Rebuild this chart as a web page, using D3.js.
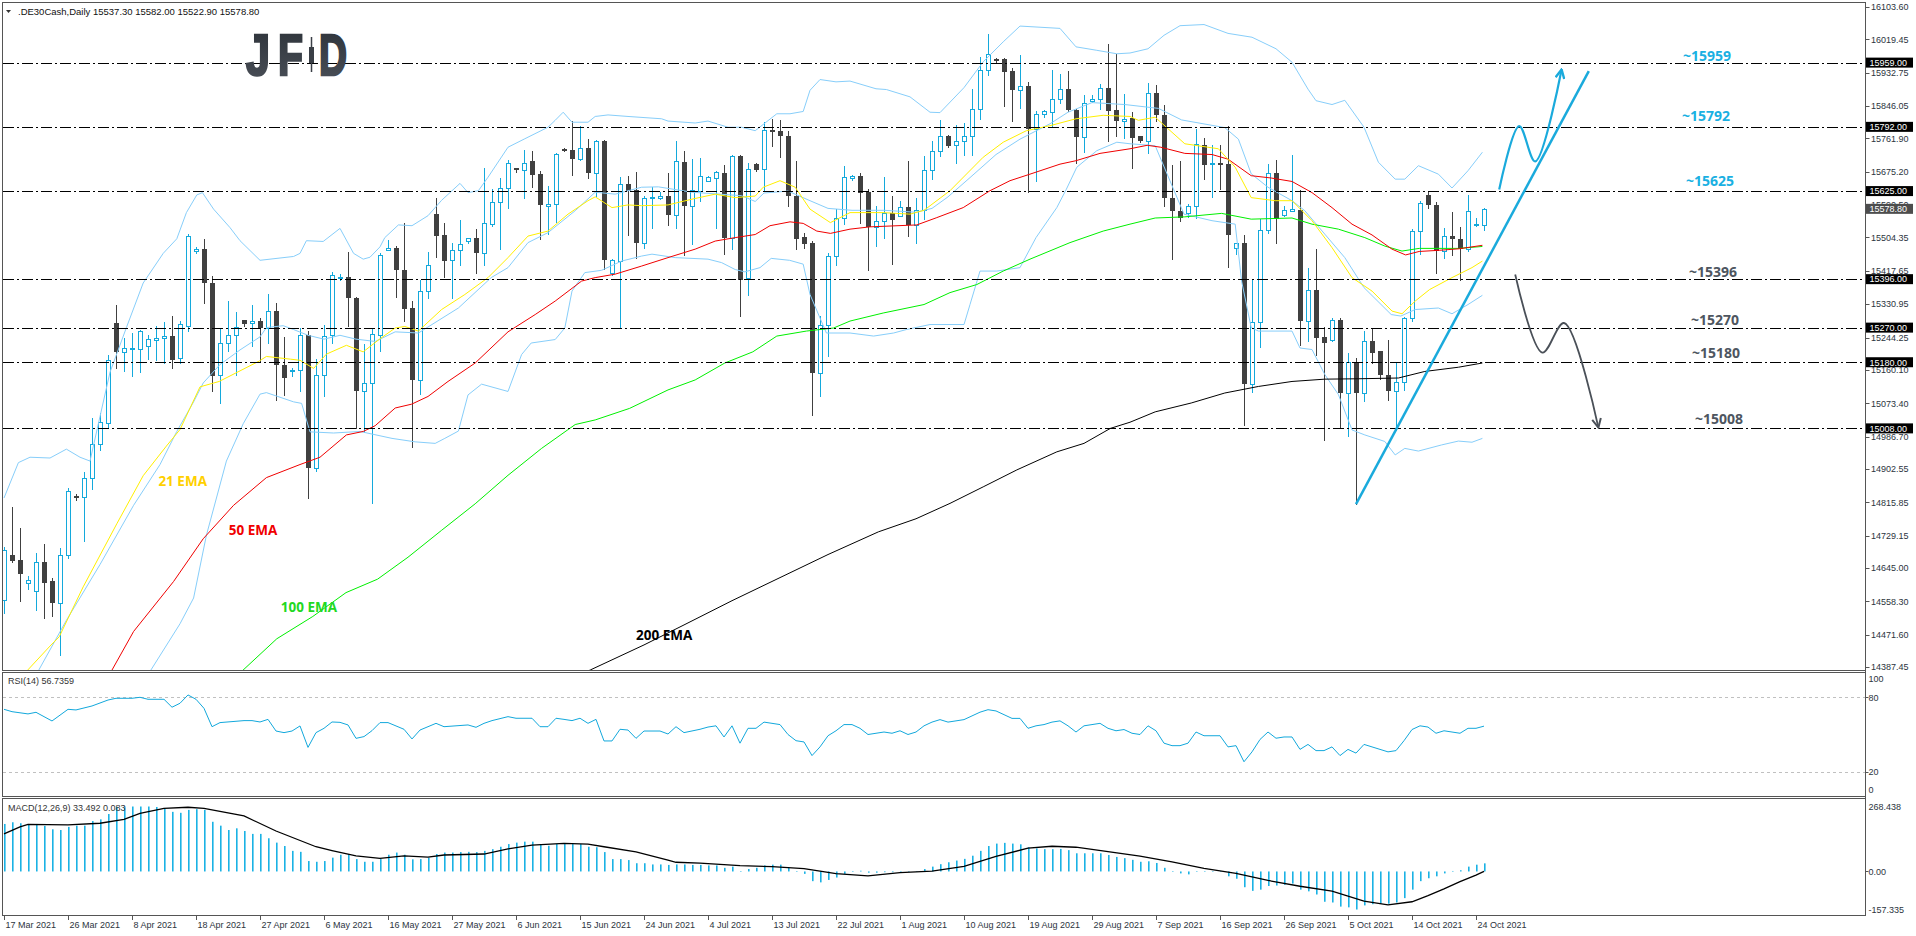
<!DOCTYPE html>
<html><head><meta charset="utf-8">
<script src="https://cdn.jsdelivr.net/npm/d3@7"></script>
<style>
html,body{margin:0;padding:0;background:#fff;}
svg{display:block;}
text{font-family:"Liberation Sans",Arial,sans-serif;}
</style></head><body>
<svg id="chart" width="1916" height="936"></svg>
<script>
// ---------------- DATA ----------------
const openP = [
14562,14678,14665,14607,14584,14661,14610,14554,14678,14832,
14829,14880,14967,15022,15283,15207,15215,15215,15222,15239,
15243,15249,15190,15275,15470,15475,15386,15147,15231,15251,
15289,15282,15287,15270,15313,15172,15157,15159,15251,14904,
15147,15251,15398,15402,15347,15104,15126,15252,15471,15476,
15421,15320,15134,15365,15565,15511,15445,15471,15494,15502,
15465,15539,15596,15633,15685,15680,15702,15669,15586,15591,
15735,15732,15708,15737,15672,15756,15413,15443,15643,15628,
15491,15606,15607,15613,15563,15700,15587,15626,15652,15659,
15673,15504,15717,15398,15695,15682,15785,15780,15769,15613,
15506,15491,15152,15276,15456,15555,15659,15665,15622,15532,
15546,15567,15561,15584,15537,15575,15680,15728,15769,15745,
15755,15768,15839,15939,15968,15968,15936,15887,15898,15787,
15826,15830,15865,15891,15837,15765,15858,15865,15894,15835,
15807,15815,15767,15755,15880,15822,15607,15574,15568,15587,
15746,15695,15699,15695,15478,15489,15123,15284,15523,15672,
15562,15574,15575,15288,15369,15245,15239,15291,15100,15178,
15100,15236,15208,15147,15106,15128,15294,15520,15614,15588,
15468,15507,15500,15474,15537,15537.3];
const highP = [
14700,14803,14750,14625,14683,14707,14620,14697,14854,14837,
14894,15034,15049,15198,15328,15243,15256,15265,15251,15275,
15284,15299,15287,15513,15479,15501,15405,15267,15339,15310,
15289,15328,15294,15357,15335,15246,15164,15270,15262,15188,
15277,15415,15410,15467,15350,15227,15270,15465,15497,15482,
15541,15339,15395,15467,15606,15541,15489,15549,15504,15527,
15685,15631,15659,15707,15686,15732,15730,15678,15639,15724,
15737,15806,15794,15761,15758,15758,15449,15661,15665,15675,
15613,15635,15622,15671,15754,15728,15708,15710,15665,15676,
15694,15720,15719,15698,15697,15804,15813,15809,15780,15702,
15515,15494,15300,15463,15578,15691,15667,15671,15630,15587,
15661,15613,15600,15704,15607,15715,15756,15809,15771,15798,
15802,15891,15974,16033,15970,15971,15946,15978,15909,15833,
15836,15939,15929,15936,15839,15876,15874,15904,16007,15981,
15878,15830,15767,15905,15900,15848,15694,15704,15591,15787,
15763,15746,15746,15793,15489,15511,15395,15552,15695,15706,
15587,15720,15628,15424,15474,15271,15294,15294,15204,15191,
15261,15267,15208,15239,15178,15297,15526,15600,15624,15597,
15528,15571,15532,15615,15555,15582];
const lowP = [
14528,14661,14559,14591,14536,14514,14519,14418,14671,14823,
14716,14851,14952,15010,15164,15157,15145,15154,15188,15185,
15179,15166,15179,15260,15465,15335,15104,15073,15209,15147,
15275,15222,15183,15231,15082,15095,15143,15106,14827,14896,
15092,15230,15394,15275,15008,14999,14813,15210,15471,15350,
15288,14959,15097,15347,15454,15401,15347,15432,15491,15413,
15433,15535,15474,15580,15674,15608,15635,15501,15513,15545,
15728,15668,15706,15659,15613,15423,15408,15271,15511,15452,
15478,15530,15604,15537,15530,15458,15487,15600,15650,15530,
15462,15475,15300,15356,15678,15628,15743,15713,15585,15474,
15476,15043,15091,15195,15434,15539,15654,15541,15419,15481,
15504,15436,15559,15508,15491,15552,15656,15717,15739,15697,
15720,15720,15813,15926,15959,15845,15806,15842,15622,15652,
15817,15795,15854,15833,15697,15726,15856,15839,15756,15767,
15762,15684,15752,15723,15807,15587,15449,15548,15558,15555,
15656,15610,15630,15428,15461,15017,15102,15219,15517,15491,
15560,15574,15224,15236,15198,14978,15236,15010,14989,14811,
15080,15178,15137,15082,15004,15108,15287,15462,15581,15413,
15452,15459,15395,15468,15535,15522.9];
const closeP = [
14692,14663,14630,14613,14661,14605,14554,14678,14846,14828,
14880,14967,15024,15185,15207,15217,15218,15260,15241,15244,
15249,15186,15280,15509,15474,15386,15143,15231,15251,15272,
15280,15287,15268,15313,15172,15140,15160,15251,14904,15147,
15249,15408,15402,15347,15104,15126,15253,15458,15476,15419,
15319,15134,15365,15434,15509,15443,15471,15487,15502,15465,
15541,15596,15633,15698,15680,15698,15668,15588,15591,15722,
15730,15708,15737,15672,15756,15446,15445,15643,15626,15491,
15607,15610,15612,15563,15702,15587,15628,15665,15661,15674,
15504,15717,15395,15682,15681,15785,15779,15768,15611,15501,
15488,15152,15276,15456,15555,15662,15665,15619,15532,15546,
15567,15550,15584,15537,15575,15680,15728,15769,15743,15756,
15769,15839,15939,15982,15965,15935,15887,15898,15787,15826,
15832,15865,15891,15835,15765,15854,15865,15894,15833,15807,
15813,15762,15755,15880,15822,15606,15572,15556,15587,15748,
15694,15699,15695,15511,15489,15123,15284,15523,15672,15552,
15575,15578,15288,15369,15243,15230,15291,15100,15180,15100,
15236,15204,15146,15106,15128,15294,15520,15594,15588,15468,
15507,15500,15474,15574,15539,15578.8];

const dateTickIdx = [0,8,16,24,32,40,48,56,64,72,80,88,96,104,112,120,128,136,144,152,160,168,176,184];
const dateTickLabels = ["17 Mar 2021","26 Mar 2021","8 Apr 2021","18 Apr 2021","27 Apr 2021","6 May 2021","16 May 2021","27 May 2021","6 Jun 2021","15 Jun 2021","24 Jun 2021","4 Jul 2021","13 Jul 2021","22 Jul 2021","1 Aug 2021","10 Aug 2021","19 Aug 2021","29 Aug 2021","7 Sep 2021","16 Sep 2021","26 Sep 2021","5 Oct 2021","14 Oct 2021","24 Oct 2021"];

const priceTicks = [16103.60,16019.45,15932.75,15846.05,15761.90,15675.20,15590.50,15504.35,15417.65,15330.95,15244.25,15160.10,15073.40,14986.70,14902.55,14815.85,14729.15,14645.00,14558.30,14471.60,14387.45];
const levels = [15959,15792,15625,15396,15270,15180,15008];
const levelIsBlue = [true,true,true,false,false,false,false];
const lastPrice = 15578.80;

const ema21 = [[0,14330],[2.8,14376],[5.75,14442],[6.9,14466],[9.9,14596],[14.1,14760],[17.4,14885],[20.3,14962],[22,15005],[24.5,15116],[26.9,15130],[31.9,15183],[32.8,15195],[35.8,15188],[37,15185],[38.7,15164],[40.3,15201],[42.8,15224],[44.9,15207],[47,15241],[48.9,15269],[50.1,15273],[51.8,15261],[54.7,15317],[57.6,15356],[60.5,15400],[63,15452],[65.5,15508],[68,15521],[70.5,15565],[73,15600],[73.9,15610],[76,15582],[78,15589],[79.7,15587],[83,15589],[86,15604],[88.9,15617],[91.4,15608],[93.9,15612],[94.9,15635],[97,15652],[98.9,15635],[100.75,15578],[103.3,15543],[105.75,15569],[109.9,15569],[113.25,15565],[115,15575],[118.25,15626],[122.4,15713],[124.9,15752],[127.8,15782],[130.75,15795],[134,15813],[137.4,15822],[140.75,15819],[141.8,15809],[143.9,15817],[147.6,15748],[151.8,15735],[153.9,15687],[155.9,15608],[158.9,15600],[161,15600],[163.5,15548],[166,15478],[168.5,15400],[171,15365],[173.5,15313],[174.75,15306],[176.4,15339],[178.2,15369],[181,15400],[183.5,15426],[184.8,15443]];
const ema50 = [[10,14280],[13.4,14376],[16.2,14480],[21.2,14610],[24.9,14721],[28.7,14808],[32.8,14880],[37,14914],[39.5,14933],[42.8,14991],[44.9,15000],[46.4,15015],[48.9,15061],[50.96,15071],[53,15091],[55.5,15130],[58.9,15178],[63,15259],[66.4,15304],[68.9,15339],[72.2,15391],[73.9,15400],[76.4,15409],[79.7,15430],[83,15452],[86.4,15474],[88.9,15495],[91.4,15504],[93.9,15512],[95.75,15535],[98.25,15545],[99.9,15541],[101.6,15521],[103.3,15515],[105.75,15526],[108.25,15532],[114.1,15537],[116.6,15556],[119.9,15582],[123.25,15626],[125.75,15652],[128.25,15669],[132,15695],[134,15704],[137,15723],[140.75,15735],[142.9,15744],[144.6,15739],[147.6,15723],[151,15720],[153,15708],[155.9,15665],[158.4,15659],[161,15650],[163.5,15621],[166,15582],[168.5,15539],[171,15511],[173.5,15474],[175.2,15459],[176.9,15468],[179.4,15471],[181.9,15475],[184.8,15484]];
const ema100 = [[26,14320],[29.7,14376],[34.1,14461],[38.6,14519],[42.75,14581],[46.7,14616],[50.5,14673],[54.7,14743],[58.9,14812],[63,14886],[67.2,14956],[71.4,15018],[73.9,15030],[78.2,15060],[83,15108],[86.4,15134],[90.1,15178],[93.6,15207],[96.6,15248],[100.3,15261],[103.7,15269],[105.75,15287],[109.9,15308],[115,15330],[118.25,15361],[121.6,15382],[124.9,15417],[128.25,15448],[133.25,15491],[137.4,15521],[140.75,15539],[143.9,15555],[147.6,15558],[152.2,15567],[155.9,15552],[161,15555],[163.5,15539],[166.8,15526],[170.1,15504],[172.6,15482],[174.75,15469],[176.9,15476],[181.9,15476],[184.8,15481]];
const ema200 = [[70,14350],[73.3,14380],[80,14445],[85,14497],[91,14560],[97,14620],[103,14680],[109.3,14739],[114,14773],[118.25,14813],[122.4,14856],[126.6,14900],[131.6,14947],[135,14969],[138.3,15008],[140.75,15024],[143.9,15051],[148.4,15074],[152.6,15100],[156.8,15117],[161,15130],[165.1,15136],[169.3,15137],[174.3,15139],[177.6,15156],[181.8,15167],[184.8,15178]];

const bbUpper = [[0,14827],[1.8,14919],[3.25,14933],[5.75,14931],[7.8,14954],[9.5,14933],[10.75,14923],[12,15039],[13.25,15154],[15.3,15270],[17.4,15386],[19.9,15463],[21.6,15501],[22.8,15569],[24.1,15615],[24.8,15621],[26.2,15578],[28.25,15530],[29.5,15496],[32,15445],[36.2,15455],[37,15463],[37.8,15496],[39.9,15494],[42,15528],[43.7,15463],[44.9,15448],[45.75,15453],[47,15480],[47.6,15504],[49.3,15537],[51,15535],[53,15561],[54.7,15601],[57,15645],[58,15621],[59.3,15626],[60.5,15661],[63,15739],[65.1,15761],[68,15791],[68.9,15809],[69.9,15830],[71,15804],[73,15804],[73.9,15819],[75.5,15823],[78,15819],[82.2,15813],[83,15807],[86.4,15802],[88,15807],[90.5,15791],[92.2,15791],[93.9,15782],[96.6,15826],[98.25,15826],[99.9,15832],[100.75,15887],[102,15915],[104,15909],[105.75,15911],[109,15891],[110.3,15889],[113.25,15870],[115.75,15830],[117,15829],[120,15894],[122.4,15961],[124.9,16013],[127,16054],[132,16048],[134,16000],[136.6,15991],[139.1,15982],[140.75,15984],[143,15995],[145,16030],[147,16055],[150,16058],[153,16035],[156,16025],[159,15995],[161,15960],[163,15890],[164,15860],[166,15850],[167.6,15861],[170,15791],[171.8,15700],[173.9,15656],[175.1,15656],[176.8,15691],[179.3,15669],[181,15633],[183,15678],[184.8,15726]];
const bbMiddle = [[0,14250],[4.25,14376],[7.8,14509],[12,14654],[16.2,14808],[19.5,14914],[21.6,15000],[23.7,15077],[24.9,15126],[27,15174],[29.5,15212],[32,15246],[32.8,15270],[34.9,15275],[36.2,15265],[38,15250],[40,15240],[42,15250],[44,15240],[46.4,15234],[48.9,15259],[51.8,15256],[56.8,15321],[60.9,15400],[63,15426],[65.5,15491],[68,15517],[71.4,15574],[73.9,15622],[76.4,15617],[79.7,15635],[81.8,15636],[86,15622],[92.2,15613],[93.9,15598],[95,15620],[98,15625],[100.75,15600],[103,15580],[106,15575],[110,15575],[114,15570],[116,15580],[118,15610],[120.75,15660],[124,15720],[127,15760],[130.75,15800],[133,15830],[136,15855],[140.1,15850],[144.3,15840],[147.2,15810],[152.6,15790],[154.3,15760],[155.9,15670],[158,15635],[161,15600],[162.6,15574],[165.1,15513],[167.6,15452],[170,15374],[173.4,15304],[174.6,15300],[176.4,15317],[179.3,15321],[181,15306],[183,15330],[184.8,15354]];
const bbLower = [[16,14300],[18.25,14376],[22,14500],[23.7,14567],[25.3,14730],[27.8,14923],[29.9,15020],[32,15097],[32.8,15101],[36.2,15077],[37.2,15073],[38.25,14999],[41.2,14996],[44.5,15000],[48.5,14982],[51.4,14973],[53.9,14969],[55.1,14982],[56.8,15001],[58,15095],[59.7,15123],[63,15104],[64.7,15200],[65.9,15230],[68.9,15239],[70.1,15269],[71,15365],[72.6,15413],[74.7,15419],[77.2,15443],[79.7,15456],[81,15461],[83.9,15452],[88,15448],[89.7,15439],[91.4,15421],[92.6,15415],[94.5,15426],[95.9,15450],[98.2,15445],[99.9,15435],[100.75,15356],[102.8,15256],[105.75,15256],[108.7,15248],[111.2,15256],[112.8,15265],[115.75,15278],[120,15278],[120.75,15330],[122,15417],[124.1,15417],[127,15426],[129,15504],[131.6,15582],[132.8,15630],[134.1,15687],[136.6,15730],[139.1,15752],[140.75,15748],[143.9,15743],[147.5,15565],[151,15548],[153.9,15539],[154.7,15391],[155.9,15270],[156.8,15261],[161,15261],[162,15217],[163.5,15213],[165.1,15148],[166.8,15096],[168.5,15004],[170.1,14991],[172.6,14974],[173.9,14939],[175.1,14956],[176.8,14949],[179.7,14965],[181.8,14975],[183.5,14972],[184.8,14982]];

const rsi = [[0,70.3],[1,68.4],[3,66.6],[4,67.9],[6,60.9],[8,70.3],[9,69.8],[11,73],[13,77.8],[14,79.2],[16,79.2],[17,80],[18,78.4],[20,78.4],[21,72],[22,75.2],[23,81.9],[24,78.4],[25,71.1],[26,56.3],[27,59.6],[30,61.2],[31,61.2],[32,60.1],[33,62.2],[34,52.8],[35,51.5],[36,52.8],[37,56.9],[38,39.6],[39,51.5],[40,55],[41,60.1],[42,59.8],[43,57.7],[44,46.9],[45,48.3],[46,53.1],[47,59.6],[48,59.6],[50,54.2],[51,46.4],[52,53.6],[53,56.3],[54,59],[55,56.3],[58,57.7],[59,55.8],[60,59],[61,61.2],[63,64.4],[64,63.1],[66,63.1],[67,56.3],[68,56.3],[69,63.1],[70,62.2],[71,61.2],[72,63.1],[73,59],[74,62.2],[75,44.8],[76,44.8],[77,54.2],[78,53.6],[79,46.9],[80,52.8],[82,52.8],[83,50.4],[84,56.3],[85,51.5],[87,54.2],[88,56],[89,57],[90,48],[91,57],[92,43],[93,55],[94,55],[95,60],[96,59],[97,58],[98,50],[99,45],[100,44],[101,33],[102,40],[103,49],[104,53],[105,58],[106,58],[107,55],[108,50],[109,51],[110,52],[111,51],[112,53],[113,50],[114,52],[115,57],[116,60],[117,62],[118,60],[119,61],[120,62],[121,65],[122,68],[123,70],[124,69],[125,66],[126,63],[127,63],[128,55],[129,57],[130,58],[131,60],[132,61],[133,57],[134,52],[135,57],[136,58],[137,59],[138,55],[139,53],[140,54],[141,51],[142,50],[143,57],[144,53],[145,43],[146,41],[147,41],[148,43],[149,52],[150,49],[151,49],[152,49],[153,40],[154,41],[155,28],[156,36],[157,46],[158,52],[159,47],[160,48],[161,48],[162,38],[163,42],[164,37],[165,37],[166,40],[167,33],[168,38],[169,35],[170,42],[171,40],[172,38],[173,36],[174,37],[175,45],[176,54],[177,57],[178,56],[179,51],[180,53],[181,52],[182,51],[183,55],[184,55],[185,56.7359]];

const macdHist = [
196,203,199,192,196,188,174,171,184,189,
189,208,215,237,266,268,268,268,268,266,
260,246,242,254,257,254,205,189,171,178,
167,155,155,137,119,105,85,81,43,40,
43,57,69,72,51,40,40,51,69,78,
69,50,51,57,72,78,78,80,81,80,
85,92,102,113,119,123,123,113,106,113,
113,113,113,102,100,80,51,51,47,34,
34,29,29,27,29,29,27,27,25,25,
15,20,0,10,15,25,28,28,15,0,
-10,-40,-45,-35,-25,-10,0,3,-5,-5,
-3,-3,0,-2,0,10,20,30,38,45,
52,65,85,105,115,118,115,112,100,95,
92,92,93,88,75,75,75,75,68,60,
55,48,40,42,35,15,0,-8,-12,0,
2,0,-2,-20,-30,-65,-80,-75,-60,-58,
-55,-50,-75,-82,-95,-125,-128,-145,-148,-157,
-140,-135,-133,-133,-128,-110,-75,-40,-28,-20,
-8,2,5,20,28,33.492];
const macdSignal = [[0,155],[2,184],[3,194],[8,192],[12,199],[15,215],[17,240],[20,260],[23,265],[25,260],[30,229],[34,167],[39,102],[41,86],[44,64],[47,54],[50,64],[53,59],[55,68],[60,72],[63,93],[66,109],[70,116],[73,113],[75,102],[79,81],[83,47],[84,38],[87,34],[88,32],[92,24],[96,20],[100,12],[104,-9],[108,-18],[112,-5],[116,1],[120,21],[124,62],[128,96],[131,104],[134,100],[138,82],[142,63],[146,40],[150,13],[154,-8],[158,-37],[162,-61],[166,-81],[170,-122],[173,-138],[176,-125],[178,-100],[180,-72],[182,-42],[184,-15],[185,0.083]];
const rsiTicks = [100,80,20,0];
const macdTicks = [268.438,0,-157.335];

// annotation paths [barIndex, price]
const trendLine = [[169,14811],[198.1,15937]];
const forecastUp = [[186.9,15629],[189.4,15794],[191.4,15702],[194.7,15941]];
const forecastDown = [[188.9,15408],[192.3,15205],[195,15282],[199.3,15010]];
const emaLabels = [["21 EMA",14872],["50 EMA",14745],["100 EMA",14543],["200 EMA",14470]];
const emaLabelIdx = [19.3,28.1,34.6,79];

// ---------------- DRAW ----------------
const BULL="#14A9DC", BEAR="#404040", TXT="#2c3440";
const svg=d3.select("#chart");
const defs=svg.append("defs");
const x=d3.scaleLinear().domain([0,185]).range([4,1484]);
const yP=d3.scaleLinear().domain([14379.8,16114]).range([670,3]);
const yR=d3.scaleLinear().domain([0,100]).range([796.5,672.5]);
const yM=d3.scaleLinear().domain([-157.335,268.438]).range([909.6,806.4]);
const AX=1865.5;

defs.append("clipPath").attr("id","cMain").append("rect").attr("x",3).attr("y",3).attr("width",1862).attr("height",667);
defs.append("clipPath").attr("id","cRsi").append("rect").attr("x",3).attr("y",673).attr("width",1862).attr("height",123);
defs.append("clipPath").attr("id","cMacd").append("rect").attr("x",3).attr("y",799).attr("width",1862).attr("height",116);
function mk(id,col,w){
  defs.append("marker").attr("id",id).attr("viewBox","0 0 10 10").attr("refX",9).attr("refY",5)
   .attr("markerWidth",11).attr("markerHeight",11).attr("markerUnits","userSpaceOnUse").attr("orient","auto")
   .append("path").attr("d","M1,1 L9,5 L1,9").attr("fill","none").attr("stroke",col).attr("stroke-width",w).attr("stroke-linejoin","miter");
}
mk("aBlue","#1AAADC",2.2); mk("aGray","#4A5058",1.8);
const lg=defs.append("linearGradient").attr("id","logoG").attr("x1",0).attr("y1",0).attr("x2",0).attr("y2",1);
lg.append("stop").attr("offset","0").attr("stop-color","#2c3138");
lg.append("stop").attr("offset","1").attr("stop-color","#4b5159");

// panel borders
[[2.5,668],[672.5,124],[798.5,117]].forEach(([y,h])=>{
  svg.append("rect").attr("x",2.5).attr("y",y).attr("width",AX-2.5).attr("height",h)
   .attr("fill","none").attr("stroke","#555").attr("stroke-width",1);
});

const gM=svg.append("g").attr("clip-path","url(#cMain)");

// candles
const bars=d3.range(openP.length).map(i=>({i,o:openP[i],h:highP[i],l:lowP[i],c:closeP[i]}));
const cx=d=>Math.round(x(d.i));
gM.append("g").selectAll("line").data(bars).join("line")
  .attr("x1",d=>cx(d)+0.5).attr("x2",d=>cx(d)+0.5)
  .attr("y1",d=>Math.round(yP(d.h))).attr("y2",d=>Math.round(yP(d.l))+1)
  .attr("stroke",d=>d.c>=d.o?BULL:BEAR).attr("stroke-width",1);
gM.append("g").selectAll("rect").data(bars).join("rect")
  .each(function(d){
    const t=Math.round(yP(Math.max(d.o,d.c))), b=Math.round(yP(Math.min(d.o,d.c)));
    const s=d3.select(this);
    if(d.c>=d.o){
      s.attr("x",cx(d)-1.5).attr("y",t+0.5).attr("width",4).attr("height",Math.max(b-t,1))
       .attr("fill","#fff").attr("stroke",BULL).attr("stroke-width",1);
    } else {
      s.attr("x",cx(d)-2).attr("y",t).attr("width",5).attr("height",Math.max(b-t,2)).attr("fill",BEAR);
    }
  });

// indicator lines
const ln=d3.line().x(d=>x(d[0])).y(d=>yP(d[1]));
[[bbUpper,"#87CEFA"],[bbMiddle,"#87CEFA"],[bbLower,"#87CEFA"],[ema200,"#000"],[ema100,"#00F000"],[ema50,"#F00000"],[ema21,"#FFF000"]]
 .forEach(([d,c])=>gM.append("path").attr("d",ln(d)).attr("fill","none").attr("stroke",c).attr("stroke-width",1));

// level lines
gM.append("g").selectAll("line").data(levels).join("line")
  .attr("x1",3).attr("x2",AX).attr("y1",d=>Math.round(yP(d))+0.5).attr("y2",d=>Math.round(yP(d))+0.5)
  .attr("stroke","#000").attr("stroke-width",1).attr("stroke-dasharray","11,3,2,3");

// trend & forecasts
const lnA=d3.line().x(d=>x(d[0])).y(d=>yP(d[1]));
gM.append("path").attr("d",lnA(trendLine)).attr("stroke","#1AAADC").attr("stroke-width",2.5).attr("fill","none");
gM.append("path").attr("d",lnA.curve(d3.curveCatmullRom.alpha(0.5))(forecastUp)).attr("stroke","#1AAADC").attr("stroke-width",2.2).attr("fill","none").attr("marker-end","url(#aBlue)");
gM.append("path").attr("d",lnA.curve(d3.curveCatmullRom.alpha(0.5))(forecastDown)).attr("stroke","#4A5058").attr("stroke-width",1.8).attr("fill","none").attr("marker-end","url(#aGray)");

// level text labels
const lvlX=[1683,1682,1686,1689,1691,1692,1695];
const lvlDy=[-2,-6,-5,-2,-3,-4,-4];
svg.append("g").selectAll("text").data(levels).join("text")
  .attr("x",(d,k)=>lvlX[k]).attr("y",(d,k)=>yP(d)+lvlDy[k])
  .attr("fill",(d,k)=>levelIsBlue[k]?"#1AB0E2":"#4E5660")
  .style("font-family","'Open Sans',sans-serif").style("font-weight","700").style("font-size","14px")
  .text(d=>"~"+d);

// EMA labels
const emaCols=["#FFD000","#F00000","#22D822","#000"];
svg.append("g").selectAll("text").data(emaLabels).join("text")
  .attr("x",(d,k)=>x(emaLabelIdx[k])).attr("y",d=>yP(d[1])+5)
  .attr("fill",(d,k)=>emaCols[k])
  .style("font-family","'Open Sans',sans-serif").style("font-weight","700").style("font-size","13.5px")
  .text(d=>d[0]);

// JFD logo
const logo=svg.append("g").attr("fill","url(#logoG)").attr("stroke","url(#logoG)").attr("stroke-width",2.6).attr("stroke-linejoin","miter")
  .style("font-family","'Open Sans',Lato,sans-serif").style("font-weight","800").style("font-size","58px");
logo.append("text").attr("x",246).attr("y",75).attr("textLength",24).attr("lengthAdjust","spacingAndGlyphs").text("J");
logo.append("text").attr("x",278).attr("y",75).attr("textLength",25).attr("lengthAdjust","spacingAndGlyphs").text("F");
logo.append("text").attr("x",319).attr("y",75).attr("textLength",28).attr("lengthAdjust","spacingAndGlyphs").text("D");
logo.append("line").attr("x1",311.5).attr("x2",311.5).attr("y1",37).attr("y2",72).attr("stroke","#3a3f46").attr("stroke-width",1.5);
logo.append("rect").attr("x",309).attr("y",47).attr("width",5).attr("height",16).attr("fill","#3a3f46").attr("stroke","none");

// header
svg.append("path").attr("d","M6,10 L11,10 L8.5,13 Z").attr("fill","#333");
svg.append("text").attr("x",18).attr("y",15).attr("fill","#111").style("font-size","9.5px")
  .text(".DE30Cash,Daily  15537.30 15582.00 15522.90 15578.80");

// price axis
svg.append("line").attr("x1",AX).attr("x2",AX).attr("y1",2).attr("y2",916).attr("stroke","#555");
const pa=svg.append("g");
priceTicks.forEach(t=>{
  const y=Math.round(yP(t))+0.5;
  pa.append("line").attr("x1",AX).attr("x2",AX+4).attr("y1",y).attr("y2",y).attr("stroke","#555");
  pa.append("text").attr("x",1871).attr("y",yP(t)+3.3).attr("fill",TXT).style("font-size","9px").text(t.toFixed(2));
});
levels.forEach(v=>{
  pa.append("rect").attr("x",1866).attr("y",yP(v)-5).attr("width",47).attr("height",10).attr("fill","#000");
  pa.append("text").attr("x",1869.5).attr("y",yP(v)+3.3).attr("fill","#fff").style("font-size","9px").text(v.toFixed(2));
});
pa.append("rect").attr("x",1866).attr("y",yP(lastPrice)-5).attr("width",47).attr("height",10).attr("fill","#4d4d4d");
pa.append("text").attr("x",1869.5).attr("y",yP(lastPrice)+3.3).attr("fill","#fff").style("font-size","9px").text(lastPrice.toFixed(2));

// RSI panel
const gR=svg.append("g").attr("clip-path","url(#cRsi)");
[80,20].forEach(v=>gR.append("line").attr("x1",3).attr("x2",AX).attr("y1",Math.round(yR(v))+0.5).attr("y2",Math.round(yR(v))+0.5)
  .attr("stroke","#c0c0c0").attr("stroke-dasharray","3,3"));
gR.append("path").attr("d",d3.line().x(d=>x(d[0])).y(d=>yR(d[1]))(rsi)).attr("fill","none").attr("stroke","#12A8DC").attr("stroke-width",1);
svg.append("text").attr("x",8).attr("y",684).attr("fill","#333").style("font-size","9px").text("RSI(14) 56.7359");
rsiTicks.forEach(v=>{
  const off = v===100?6.5:(v===0?-6.5:0);
  if(v===80||v===20) svg.append("line").attr("x1",AX).attr("x2",AX+3).attr("y1",Math.round(yR(v))+0.5).attr("y2",Math.round(yR(v))+0.5).attr("stroke","#555");
  svg.append("text").attr("x",1868.5).attr("y",yR(v)+off+3.3).attr("fill",TXT).style("font-size","9px").text(v);
});

// MACD panel
const gD=svg.append("g").attr("clip-path","url(#cMacd)");
gD.append("g").selectAll("rect").data(macdHist).join("rect")
  .attr("x",(d,i)=>Math.round(x(i))).attr("width",1.6)
  .attr("y",d=>Math.min(yM(d),yM(0))).attr("height",d=>Math.max(Math.abs(yM(d)-yM(0)),0.5))
  .attr("fill","#1AB2E4");
gD.append("path").attr("d",d3.line().x(d=>x(d[0])).y(d=>yM(d[1]))(macdSignal)).attr("fill","none").attr("stroke","#000").attr("stroke-width",1.3);
svg.append("text").attr("x",8).attr("y",810.5).attr("fill","#333").style("font-size","9px").text("MACD(12,26,9) 33.492 0.083");
macdTicks.forEach(v=>{
  if(v===0) svg.append("line").attr("x1",AX).attr("x2",AX+3).attr("y1",Math.round(yM(v))+0.5).attr("y2",Math.round(yM(v))+0.5).attr("stroke","#555");
  svg.append("text").attr("x",1868.5).attr("y",yM(v)+3.3).attr("fill",TXT).style("font-size","9px")
    .text(v===0?"0.00":String(v));
});

// date axis
const gX=svg.append("g");
dateTickIdx.forEach((idx,k)=>{
  const xx=Math.round(x(idx))+0.5;
  gX.append("line").attr("x1",xx).attr("x2",xx).attr("y1",916).attr("y2",920).attr("stroke","#555");
  gX.append("text").attr("x",xx+1).attr("y",927.5).attr("fill",TXT).style("font-size","9px").text(dateTickLabels[k]);
});
</script>
</body></html>
